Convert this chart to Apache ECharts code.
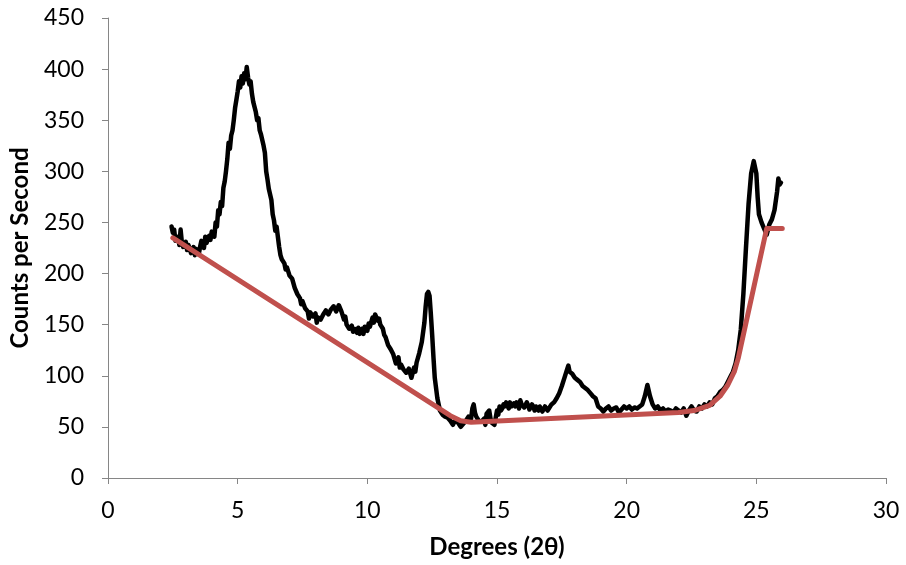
<!DOCTYPE html>
<html>
<head>
<meta charset="utf-8">
<script src="https://cdn.jsdelivr.net/npm/echarts@6/dist/echarts.min.js"></script>
<style>
  html, body { margin: 0; padding: 0; background: #fff; }
  #chart { width: 906px; height: 565px; }
</style>
</head>
<body>
<div id="chart"></div>
<script>
// Diffraction scan: angle (degrees 2θ) and intensity (counts per second)
var twoTheta = [
  2.45, 2.5, 2.55, 2.6, 2.7, 2.75, 2.8, 2.85, 2.9, 3.0, 3.05, 3.1, 3.2, 3.3, 3.35, 3.4, 3.5, 3.55, 3.6, 3.7,
  3.75, 3.8, 3.9, 3.95, 4.0, 4.1, 4.15, 4.2, 4.25, 4.3, 4.35, 4.4, 4.45, 4.5, 4.55, 4.6, 4.65, 4.7, 4.75, 4.8,
  4.85, 4.9, 4.95, 5.0, 5.05, 5.1, 5.15, 5.2, 5.25, 5.3, 5.35, 5.4, 5.45, 5.5, 5.55, 5.6, 5.7, 5.75, 5.8, 5.85,
  5.9, 6.0, 6.05, 6.1, 6.15, 6.2, 6.3, 6.35, 6.4, 6.45, 6.5, 6.55, 6.6, 6.65, 6.7, 6.8, 6.85, 6.9, 7.0, 7.1,
  7.2, 7.3, 7.4, 7.45, 7.5, 7.6, 7.7, 7.75, 7.8, 7.9, 8.0, 8.05, 8.1, 8.2, 8.3, 8.4, 8.5, 8.6, 8.7, 8.8,
  8.9, 9.0, 9.1, 9.15, 9.2, 9.3, 9.4, 9.45, 9.5, 9.6, 9.65, 9.7, 9.8, 9.85, 9.9, 10.0, 10.05, 10.1, 10.2, 10.25,
  10.3, 10.4, 10.45, 10.5, 10.6, 10.65, 10.7,
  10.8, 10.9, 11.0, 11.1, 11.2, 11.25, 11.3, 11.4, 11.5, 11.6, 11.7, 11.8, 11.85, 11.9, 12.0, 12.1, 12.2, 12.25, 12.3, 12.35,
  12.4, 12.45, 12.5, 12.55, 12.6, 12.7, 12.8, 12.9, 13.0, 13.1, 13.2, 13.3, 13.4, 13.5, 13.6, 13.7, 13.8, 13.9, 14.0, 14.05,
  14.1, 14.15, 14.2, 14.3, 14.4, 14.5, 14.55, 14.6, 14.7, 14.75, 14.8, 14.9, 15.0, 15.05, 15.1, 15.15, 15.2, 15.25, 15.3, 15.35,
  15.4, 15.45, 15.5, 15.55, 15.6, 15.65,
  15.7, 15.75, 15.8, 15.85, 15.9, 15.95, 16.0, 16.05, 16.1, 16.15, 16.2, 16.25, 16.3, 16.35, 16.4, 16.45, 16.5, 16.55, 16.6, 16.65,
  16.7, 16.75, 16.8, 16.85, 16.9, 16.95, 17.0, 17.1, 17.2, 17.3, 17.4, 17.5, 17.6,
  17.7, 17.75, 17.8, 17.9, 18.0, 18.1, 18.2, 18.3, 18.4, 18.5, 18.6, 18.7, 18.8, 18.9, 19.0, 19.1, 19.2, 19.3, 19.4, 19.5,
  19.6, 19.7, 19.8, 19.9, 20.0, 20.1, 20.2, 20.3, 20.4, 20.5, 20.6, 20.7, 20.8, 20.85, 20.9, 21.0, 21.1, 21.2, 21.3, 21.4,
  21.5, 21.6, 21.7, 21.8, 21.9, 22.0, 22.1, 22.2, 22.3, 22.4, 22.5, 22.6, 22.7, 22.8, 22.9, 23.0, 23.1, 23.2, 23.3, 23.4,
  23.5, 23.6, 23.7, 23.8, 23.9, 24.0, 24.1, 24.2, 24.3, 24.4, 24.5, 24.6, 24.7, 24.8, 24.9, 24.95, 25.0, 25.05, 25.1, 25.2,
  25.3, 25.4, 25.5, 25.6, 25.7, 25.8, 25.85, 25.9, 25.95
];
var counts = [
  246, 240, 243, 232, 236, 228, 243, 230, 226, 231, 223, 228, 220, 226, 218, 224, 219, 226, 232, 225,
  236, 230, 237, 233, 241, 236, 250, 246, 262, 258, 270, 266, 284, 290, 300, 312, 328, 322, 335, 340,
  350, 362, 370, 378, 388, 382, 393, 386, 396, 390, 402, 392, 385, 388, 376, 368, 358, 350, 352, 340,
  336, 325, 318, 300, 292, 283, 272, 258, 252, 242, 246, 236, 226, 218, 214, 210, 204, 206, 198, 195,
  186, 180, 176, 170, 173, 166, 163, 156, 162, 158, 161, 152, 157, 155, 160, 164, 160, 165, 168, 163,
  169, 163, 155, 158, 150, 146, 149, 143, 146, 142, 147, 141, 146, 141, 148, 144, 151, 148, 157, 152,
  160, 154, 156, 150, 146, 140, 138,
  130, 126, 121, 112, 118, 108, 111, 106, 103, 107, 98, 108, 104, 113, 122, 133, 152, 168, 180, 182,
  178, 160, 140, 118, 98, 78, 66, 62, 60, 59, 56, 52, 57, 54, 50, 53, 56, 60, 58, 68,
  72, 64, 60, 56, 55, 58, 52, 63, 66, 58, 54, 52, 66, 62, 70, 66, 68, 72, 70, 74,
  71, 68, 74, 70, 69, 73,
  70, 74, 72, 68, 76, 72, 73, 69, 70, 74, 71, 67, 68, 72, 70, 66, 70, 68, 66, 70,
  69, 65, 66, 70, 70, 66, 68, 72, 74, 78, 83, 90, 98,
  106, 110, 104, 102, 98, 96, 94, 90, 88, 86, 83, 80, 78, 70, 68, 65, 68, 70, 66, 68,
  69, 64, 67, 70, 68, 70, 67, 69, 68, 70, 72, 80, 91, 90, 80, 72, 68, 70, 66, 68,
  65, 67, 66, 64, 68, 66, 64, 68, 61, 66, 70, 66, 65, 70, 68, 72, 70, 74, 72, 78,
  80, 84, 86, 89, 94, 99, 104, 112, 125, 145, 180, 225, 268, 298, 310, 311, 298, 275, 258, 250,
  244, 238, 248, 253, 262, 280, 293, 287, 289
];

// Fitted background under the pattern
var baseTheta  = [2.5, 13.2, 13.6, 14.0, 22.0, 22.6, 23.2, 23.6, 23.9, 24.15, 24.3, 25.4, 26.0];
var baseCounts = [235, 61, 56, 54.5, 64, 66, 71, 80, 91, 104, 117, 244, 244];

// Axis ranges
var xMin = 0, xMax = 30, xStep = 5;
var yMin = 0, yMax = 450, yStep = 50;

function pairs(xs, ys) {
  return xs.map(function (x, i) { return [x, ys[i]]; });
}

var font = 'Lato, "Open Sans", sans-serif';
var axisGray = '#868686';

var chart = echarts.init(document.getElementById('chart'), null, { renderer: 'canvas' });
chart.setOption({
  animation: false,
  backgroundColor: '#ffffff',
  grid: { left: 108, right: 20, top: 18, bottom: 87, containLabel: false },
  xAxis: {
    type: 'value',
    min: xMin, max: xMax, interval: xStep,
    name: 'Degrees (2θ)',
    nameLocation: 'middle',
    nameGap: 57,
    nameTextStyle: { fontFamily: font, fontWeight: 'bold', fontSize: 24, color: '#000' },
    axisLine: { show: true, lineStyle: { color: axisGray, width: 1 } },
    axisTick: { show: true, inside: false, length: 6, lineStyle: { color: axisGray } },
    axisLabel: { fontFamily: font, fontSize: 23, color: '#000', margin: 21 },
    splitLine: { show: false }
  },
  yAxis: {
    type: 'value',
    min: yMin, max: yMax, interval: yStep,
    name: 'Counts per Second',
    nameLocation: 'middle',
    nameGap: 76,
    nameRotate: 90,
    nameTextStyle: { fontFamily: font, fontWeight: 'bold', fontSize: 24, color: '#000' },
    axisLine: { show: true, lineStyle: { color: axisGray, width: 1 } },
    axisTick: { show: true, inside: false, length: 6, lineStyle: { color: axisGray } },
    axisLabel: { fontFamily: font, fontSize: 23, color: '#000', margin: 24 },
    splitLine: { show: false }
  },
  series: [
    {
      name: 'Pattern',
      type: 'line',
      data: pairs(twoTheta, counts),
      showSymbol: false,
      smooth: false,
      lineStyle: { color: '#000000', width: 4.5, join: 'round', cap: 'round' },
      z: 2
    },
    {
      name: 'Background',
      type: 'line',
      data: pairs(baseTheta, baseCounts),
      showSymbol: false,
      smooth: false,
      lineStyle: { color: '#C0504D', width: 5, join: 'round', cap: 'round' },
      z: 3
    }
  ]
});
</script>
</body>
</html>
